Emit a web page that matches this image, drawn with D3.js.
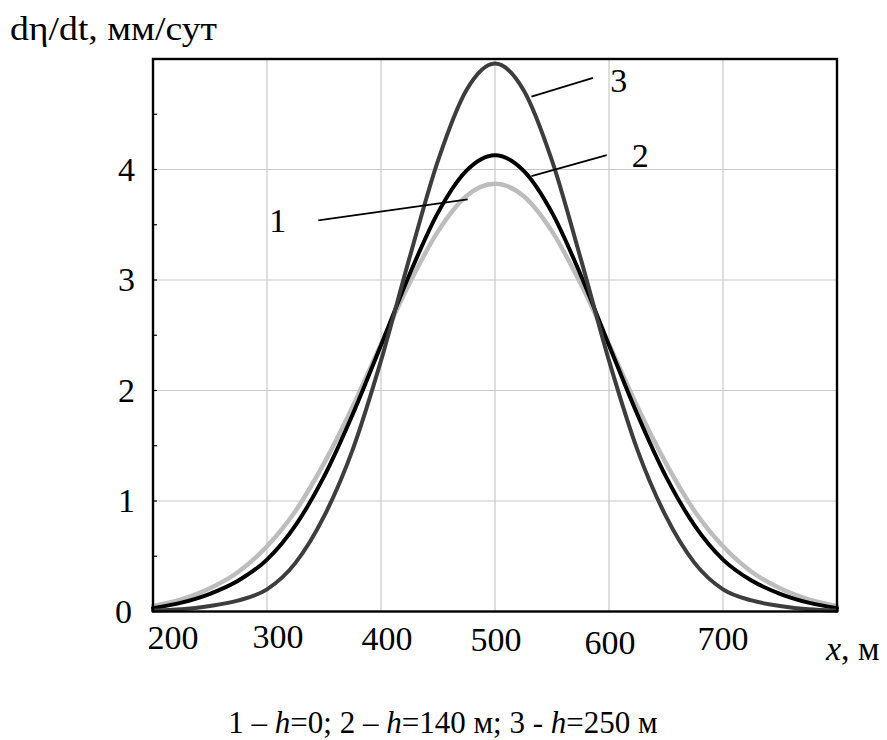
<!DOCTYPE html>
<html>
<head>
<meta charset="utf-8">
<script src="https://cdn.jsdelivr.net/npm/d3@7"></script>
<style>
  html, body { margin: 0; padding: 0; background: #fff; }
  svg text { font-family: "Liberation Serif", "DejaVu Serif", serif; }
</style>
</head>
<body>
<svg id="chart" width="887" height="740"></svg>
<script>
// x, m
const xValues = [200, 225, 250, 275, 300, 325, 350, 375, 400, 425, 450, 475, 500,
  525, 550, 575, 600, 625, 650, 675, 700, 725, 750, 775, 800]

// dη/dt, mm/day — 1: h=0, 2: h=140 m, 3: h=250 m
const rate1 = [0.05, 0.11, 0.21, 0.36, 0.59, 0.91, 1.34, 1.85, 2.42, 2.97, 3.44, 3.76, 3.87,
  3.76, 3.44, 2.97, 2.42, 1.85, 1.34, 0.91, 0.59, 0.36, 0.21, 0.11, 0.05]
const rate2 = [0.03, 0.08, 0.16, 0.28, 0.47, 0.78, 1.22, 1.78, 2.41, 3.05, 3.61, 3.99, 4.13,
  3.99, 3.61, 3.05, 2.41, 1.78, 1.22, 0.78, 0.47, 0.28, 0.16, 0.08, 0.03]
const rate3 = [0.01, 0.02, 0.05, 0.10, 0.20, 0.44, 0.86, 1.46, 2.27, 3.20, 4.08, 4.72, 4.96,
  4.72, 4.08, 3.20, 2.27, 1.46, 0.86, 0.44, 0.20, 0.10, 0.05, 0.02, 0.01]

const xTicks = [200, 300, 400, 500, 600, 700]
const yTicks = [0, 1, 2, 3, 4]
const yTitle = 'dη/dt, мм/сут'
const legendText = '1 – h=0; 2 – h=140 м; 3 - h=250 м'

// curve labels with leader lines, in data units
const curveLabels = [
  { text: '1', tx: 302, ty: 3.43, x1: 345, y1: 3.54, x2: 476, y2: 3.73 },
  { text: '2', tx: 620, ty: 4.02, x1: 598, y1: 4.13, x2: 532, y2: 3.94 },
  { text: '3', tx: 601, ty: 4.70, x1: 586, y1: 4.83, x2: 532, y2: 4.66 }
]

const series = [
  { id: 1, values: rate1, color: '#bdbdbd', width: 4.5 },
  { id: 2, values: rate2, color: '#000000', width: 4 },
  { id: 3, values: rate3, color: '#3d3d3d', width: 4 }
]

const FONT = '"Liberation Serif", "DejaVu Serif", serif'
const margins = { left: 153, right: 50, top: 59, bottom: 128.5 }
const svg = d3.select('#chart')
const W = +svg.attr('width')
const H = +svg.attr('height')

const x = d3.scaleLinear().domain([200, 800]).range([margins.left, W - margins.right])
const y = d3.scaleLinear().domain([0, 5]).range([H - margins.bottom, margins.top])

// grid
svg.append('g')
  .selectAll('line')
  .data([300, 400, 500, 600, 700])
  .join('line')
  .attr('x1', d => x(d)).attr('x2', d => x(d))
  .attr('y1', y(0)).attr('y2', y(5))
  .attr('stroke', '#c8c8c8')
  .attr('stroke-width', 1.2)

svg.append('g')
  .selectAll('line')
  .data([1, 2, 3, 4])
  .join('line')
  .attr('x1', x(200)).attr('x2', x(800))
  .attr('y1', d => y(d)).attr('y2', d => y(d))
  .attr('stroke', '#c8c8c8')
  .attr('stroke-width', 1.2)

// minor ticks on the left axis
svg.append('g')
  .selectAll('line')
  .data(d3.range(0.5, 5, 0.5))
  .join('line')
  .attr('x1', x(200)).attr('x2', x(200) + 4)
  .attr('y1', d => y(d)).attr('y2', d => y(d))
  .attr('stroke', '#000')
  .attr('stroke-width', 1.2)

// curves
const line = d3.line()
  .curve(d3.curveMonotoneX)
  .x((d, i) => x(xValues[i]))
  .y(d => y(d))

svg.append('g')
  .selectAll('path')
  .data(series)
  .join('path')
  .attr('d', d => line(d.values))
  .attr('fill', 'none')
  .attr('stroke', d => d.color)
  .attr('stroke-width', d => d.width)
  .attr('stroke-linejoin', 'round')
  .attr('stroke-linecap', 'round')

// frame
svg.append('rect')
  .attr('x', x(200)).attr('y', y(5))
  .attr('width', x(800) - x(200))
  .attr('height', y(0) - y(5))
  .attr('fill', 'none')
  .attr('stroke', '#000')
  .attr('stroke-width', 2.4)

// tick labels (the original ones sit a bit right of their grid lines)
const xNudge = { 200: 20, 300: 11, 400: 6, 500: 1, 600: 1, 700: 0 }
const xBase = { 200: 649, 300: 648, 400: 650, 500: 651, 600: 654, 700: 650 }
svg.append('g')
  .selectAll('text')
  .data(xTicks)
  .join('text')
  .attr('font-family', FONT)
  .attr('x', d => x(d) + xNudge[d])
  .attr('y', d => xBase[d])
  .attr('text-anchor', 'middle')
  .attr('font-size', 34)
  .text(d => d)

svg.append('g')
  .selectAll('text')
  .data(yTicks)
  .join('text')
  .attr('font-family', FONT)
  .attr('x', d => d === 0 ? 132 : 135)
  .attr('y', d => y(d) + 11)
  .attr('text-anchor', 'end')
  .attr('font-size', 34)
  .text(d => d)

// axis titles
svg.append('text')
  .attr('font-family', FONT)
  .attr('x', 10)
  .attr('y', 40)
  .attr('font-size', 33)
  .attr('textLength', 207)
  .attr('lengthAdjust', 'spacingAndGlyphs')
  .text(yTitle)

const xTitle = svg.append('text')
  .attr('font-family', FONT)
  .attr('x', 826)
  .attr('y', 660)
  .attr('font-size', 34)
xTitle.append('tspan').attr('font-style', 'italic').text('x')
xTitle.append('tspan').text(', м')

// curve labels
const labels = svg.append('g')
labels.selectAll('line')
  .data(curveLabels)
  .join('line')
  .attr('x1', d => x(d.x1)).attr('y1', d => y(d.y1))
  .attr('x2', d => x(d.x2)).attr('y2', d => y(d.y2))
  .attr('stroke', '#000')
  .attr('stroke-width', 1.8)

labels.selectAll('text')
  .data(curveLabels)
  .join('text')
  .attr('font-family', FONT)
  .attr('x', d => x(d.tx))
  .attr('y', d => y(d.ty))
  .attr('font-size', 34)
  .text(d => d.text)

// legend line under the chart
const legend = svg.append('text')
  .attr('font-family', FONT)
  .attr('x', 443)
  .attr('y', 733)
  .attr('text-anchor', 'middle')
  .attr('font-size', 31)
legendText.split(/(h)/).forEach(part => {
  legend.append('tspan')
    .attr('font-style', part === 'h' ? 'italic' : null)
    .text(part)
})
</script>
</body>
</html>
